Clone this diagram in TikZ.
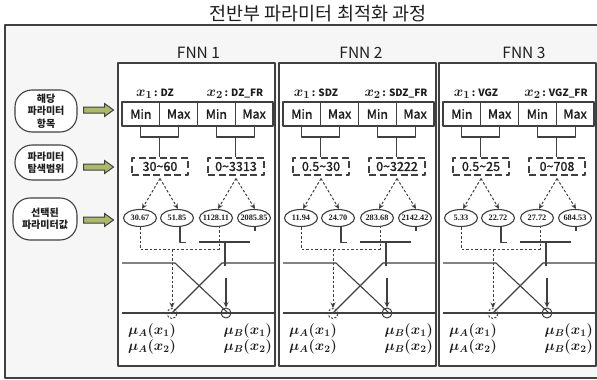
\documentclass[tikz,border=0pt]{standalone}
\usepackage{fontspec}
\setmainfont{Noto Sans CJK KR}
\newfontfamily\medfont[FakeBold=1.3]{Noto Sans CJK KR}
\newfontfamily\numfont{Liberation Serif}
\usetikzlibrary{arrows.meta,shapes.geometric}
\definecolor{ln}{RGB}{64,64,64}
\definecolor{txt}{RGB}{30,30,30}
\definecolor{bgc}{RGB}{246,246,246}
\definecolor{arrf}{RGB}{172,186,104}
\newcommand\tld{\textasciitilde}
\newcommand\blockarrow[1]{\draw[blk] (#1) ++(0,-3) -- ++(21,0) -- ++(0,-3.5) -- ++(9,6.5) -- ++(-9,6.5) -- ++(0,-3.5) -- ++(-21,0) -- cycle;}
\begin{document}
\begin{tikzpicture}[x=1pt,y=-1pt,line join=round,text=txt,
  frame/.style={draw=ln,line width=1.1pt},
  panel/.style={draw=ln,line width=1.1pt,fill=white},
  cellbox/.style={draw=ln,line width=1.1pt,minimum width=37.75pt,minimum height=24pt,inner sep=0pt,font=\medfont\fontsize{12.5}{14}\selectfont},
  rangebox/.style={draw=ln,line width=1.1pt,dash pattern=on 7pt off 3.5pt,minimum width=56pt,minimum height=17pt,inner sep=0pt,font=\medfont\fontsize{12.5}{14}\selectfont},
  valnode/.style={ellipse,draw=ln,line width=1.1pt,minimum width=33pt,minimum height=17pt,inner sep=0pt,font=\numfont\bfseries\fontsize{8.3}{9}\selectfont},
  lblbox/.style={draw=ln,line width=1.1pt,fill=white,rounded corners=17pt,align=center,inner sep=0pt,font=\bfseries\fontsize{10}{12.5}\selectfont},
  blk/.style={draw=ln,line width=1pt,fill=arrf,line join=miter},
  sln/.style={draw=ln,line width=1.1pt},
  dln/.style={draw=ln,line width=1pt,dash pattern=on 2.5pt off 2pt},
  darr/.style={dln,-{Stealth[length=5.5pt,width=5pt]}},
  sarr/.style={sln,-{Stealth[length=5.5pt,width=5pt]}},
  xlab/.style={anchor=base,inner sep=0pt},
  mulab/.style={inner sep=0pt,font=\fontsize{14}{16}\selectfont\boldmath},
  ptmark/.style={circle,draw=ln,line width=1pt,minimum size=10pt,inner sep=0pt}
]
\useasboundingbox (0,0) rectangle (597,380);
% title
\node[font=\fontsize{18.5}{20}\selectfont] (title) at (318,14) {전반부 파라미터 최적화 과정};
% outer frame
\draw[frame,fill=bgc] (5,25) rectangle (600,378);
% left labels
\node[lblbox,minimum width=62pt,minimum height=42pt] (l1) at (46,111) {해당\\파라미터\\항목};
\node[lblbox,minimum width=62pt,minimum height=35pt] (l2) at (46,162.5) {파라미터\\탐색범위};
\node[lblbox,minimum width=64pt,minimum height=42pt] (l3) at (45,219) {선택된\\파라미터값};
\coordinate (a1) at (83.5,110);
\coordinate (a2) at (83.5,167);
\coordinate (a3) at (83.5,220);
\blockarrow{a1}
\blockarrow{a2}
\blockarrow{a3}
% panels
\foreach \dx/\p/\fx/\la/\lb/\ra/\rb/\va/\vb/\vc/\vd in {
  0/1/198.5/DZ/DZ\_FR/30\tld{}60/0\tld{}3313/30.67/51.85/1128.11/2085.85,
  161/2/200/SDZ/SDZ\_FR/0.5\tld{}30/0\tld{}3222/11.94/24.70/283.68/2142.42,
  321/3/203/VGZ/VGZ\_FR/0.5\tld{}25/0\tld{}708/5.33/22.72/27.72/684.53}
{
\begin{scope}[xshift=\dx pt]
  \draw[panel] (118,63) rectangle (275,366);
  \node[font=\fontsize{15.5}{18}\selectfont] (f\p) at (\fx,53) {FNN \p};
  % variable labels
  \node[xlab] (xa\p) at (155,96) {{\fontsize{15.5}{16}\selectfont\boldmath$x_1$}\,{\bfseries\fontsize{10}{11}\selectfont: \la}};
  \node[xlab] (xb\p) at (235,96) {{\fontsize{15.5}{16}\selectfont\boldmath$x_2$}\,{\bfseries\fontsize{10}{11}\selectfont: \lb}};
  % min/max table
  \node[cellbox] (c\p1) at (140.9,114) {Min};
  \node[cellbox] (c\p2) at (178.6,114) {Max};
  \node[cellbox] (c\p3) at (216.4,114) {Min};
  \node[cellbox] (c\p4) at (254.1,114) {Max};
  % ranges
  \node[rangebox] (r\p1) at (160,166.5) {\ra};
  \node[rangebox] (r\p2) at (236,166.5) {\rb};
  \coordinate (b\p1) at (159.75,137);
  \coordinate (b\p2) at (235.25,137);
  \draw[sln] (c\p1.south) |- (b\p1) -| (c\p2.south);
  \draw[sln] (c\p3.south) |- (b\p2) -| (c\p4.south);
  \draw[sln] (b\p1) -- (b\p1 |- r\p1.north);
  \draw[sln] (b\p2) -- (b\p2 |- r\p2.north);
  % selected values
  \node[valnode] (e\p1) at (140,218) {\makebox[0pt]{\va}};
  \node[valnode] (e\p2) at (177,218) {\makebox[0pt]{\vb}};
  \node[valnode] (e\p3) at (216,218) {\makebox[0pt]{\vc}};
  \node[valnode] (e\p4) at (254,218) {\makebox[0pt]{\vd}};
  \draw[darr] ([yshift=-3pt]r\p1.south) -- ([xshift=2pt]e\p1.north);
  \draw[darr] ([yshift=-3pt]r\p1.south) -- ([xshift=1pt]e\p2.north);
  \draw[darr] ([yshift=-3pt]r\p2.south) -- ([xshift=2pt]e\p3.north);
  \draw[darr] ([yshift=-3pt]r\p2.south) -- ([xshift=1pt]e\p4.north);
  % marks on the membership axis
  \node[ptmark,dash pattern=on 2pt off 1.5pt] (ma\p) at (172,313.5) {};
  \node[ptmark] (mb\p) at (226,313) {};
  % links below the values
  \coordinate (dj\p) at (219,249);
  \coordinate (dm\p) at (172,249);
  \draw[dln] (e\p1.south) |- (dj\p) -- (dj\p |- e\p3.south);
  \draw[darr] (dm\p) -- (ma\p.north);
  \draw[sln] ([xshift=3pt]e\p2.south) -- ++(0,15.5) -- ++(6,0);
  \coordinate (hs\p) at (199,242);
  \coordinate (he\p) at (250,242);
  \draw[sln] (hs\p) -- (he\p);
  \draw[sln] (225,242) -- (225,266);
  \draw[sln] ([xshift=1pt]e\p4.south) -- ++(0,4);
  \draw[sarr] (226,278) -- (mb\p.north);
  % membership functions
  \draw[sln] (122,263) -- (175,263) -- (228,313);
  \draw[sln] (172,313) -- (222,263) -- (274,263);
  \draw[sln] (122,313) -- (274,313);
  % membership labels
  \node[mulab,anchor=west] (ua\p) at (128,331) {$\mu_A(x_1)$};
  \node[mulab,anchor=west] (va\p) at (128,347) {$\mu_A(x_2)$};
  \node[mulab,anchor=east] (ub\p) at (272,331) {$\mu_B(x_1)$};
  \node[mulab,anchor=east] (vb\p) at (272,347) {$\mu_B(x_2)$};
\end{scope}
}
\end{tikzpicture}
\end{document}
